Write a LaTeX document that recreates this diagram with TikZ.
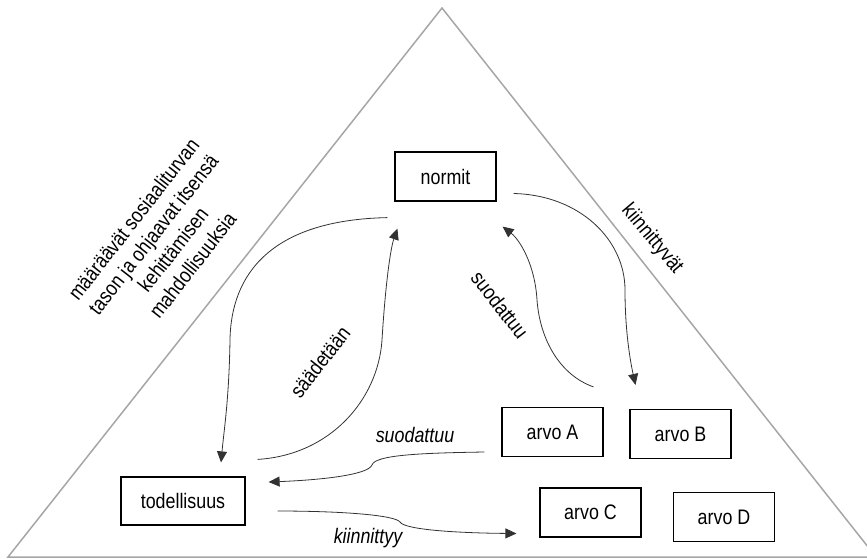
\documentclass[tikz,border=0pt]{standalone}
\usepackage{fontspec}
\setmainfont[FakeStretch=0.85]{Liberation Sans}
\usetikzlibrary{arrows.meta}
\definecolor{reuna}{RGB}{166,166,166}
\definecolor{viiva}{RGB}{50,50,50}

\begin{document}
\begin{tikzpicture}[x=1pt, y=-1pt, >={Triangle[length=11pt,width=10pt]},
	laatikko/.style={draw=black, line width=1.2pt, minimum width=101pt, minimum height=49pt, inner sep=0pt, font=\fontsize{21}{25}\selectfont},
	nuoli/.style={viiva, line width=0.8pt, ->},
	teksti/.style={font=\fontsize{21}{25}\selectfont, inner sep=0pt},
	kursiivi/.style={teksti, font=\fontsize{21}{25}\selectfont\itshape}]

	\useasboundingbox (0,0) rectangle (867,558);

	% kolmio
	\draw[reuna, line width=1.5pt] (442,8) -- (8,557) -- (876,557) -- cycle;

	\node[laatikko] (normit) at (445.5,176.5) {normit};
	\node[laatikko, minimum width=124pt, minimum height=48pt] (todellisuus) at (183,501) {todellisuus};
	\node[laatikko] (arvoA) at (552.5,432) {arvo A};
	\node[laatikko] (arvoB) at (680.5,434) {arvo B};
	\node[laatikko] (arvoC) at (590.5,512.5) {arvo C};
	\node[laatikko] (arvoD) at (724,517) {arvo D};

	% tekstit
	\node[teksti, rotate=52, align=center] (maaraavat) at (163,242) {määräävät sosiaaliturvan\\tason ja ohjaavat itsensä\\kehittämisen\\mahdollisuuksia};
	\node[teksti, rotate=-50] (kiinnittyvat) at (652,239) {kiinnittyvät};
	\node[teksti, rotate=52] (saadetaan) at (320,362) {säädetään};
	\node[teksti, rotate=-52] (suodattuuYla) at (500,305) {suodattuu};
	\node[kursiivi] (suodattuuAla) at (415,435) {suodattuu};
	\node[kursiivi] (kiinnittyy) at (368,538) {kiinnittyy};

	% nuolet
	\draw[nuoli] ([shift={(-7,16)}]normit.south west) .. controls (270,220) and (231,275) .. (230,340)
		.. controls (229,400) and (224,430) .. ([shift={(38,-14)}]todellisuus.north);
	\draw[nuoli] ([shift={(12,-17)}]todellisuus.north east) .. controls (330,455) and (378,400) .. (382,340)
		.. controls (385,290) and (390,250) .. ([shift={(3,27)}]normit.south west);
	\draw[nuoli] ([shift={(41,-20)}]arvoA.north) .. controls (560,375) and (540,340) .. (537,300)
		.. controls (535,265) and (520,240) .. ([shift={(6,25)}]normit.south east);
	\draw[nuoli] ([shift={(17,17)}]normit.east) .. controls (580,195) and (625,240) .. (625,290)
		.. controls (625,330) and (630,360) .. ([shift={(-45,-24)}]arvoB.north);
	\draw[nuoli] ([shift={(-17,20)}]arvoA.west) .. controls (420,453) and (375,455) .. (372,465)
		.. controls (368,475) and (320,480) .. ([shift={(23,-19)}]todellisuus.east);
	\draw[nuoli] ([shift={(32,10)}]todellisuus.east) .. controls (340,511) and (395,515) .. (400,522)
		.. controls (405,530) and (460,533) .. ([shift={(-23,21)}]arvoC.west);

\end{tikzpicture}
\end{document}
